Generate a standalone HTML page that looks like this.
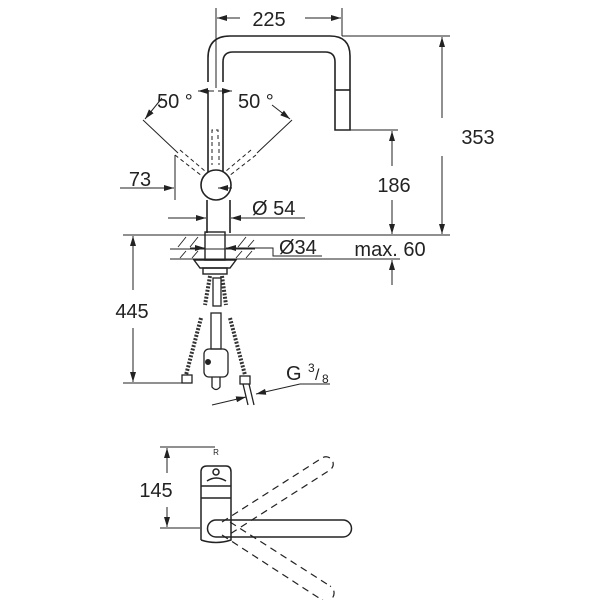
<!DOCTYPE html>
<html><head><meta charset="utf-8"><style>
html,body{margin:0;padding:0;background:#fff}
svg{display:block}
text{font-family:"Liberation Sans",sans-serif;fill:#222}
</style></head><body>
<svg width="600" height="600" viewBox="0 0 600 600" xmlns="http://www.w3.org/2000/svg">
<defs>
<marker id="a" viewBox="0 0 10 6" refX="10" refY="3" markerWidth="10" markerHeight="6" orient="auto-start-reverse" markerUnits="userSpaceOnUse"><path d="M0,0 L10,3 L0,6z" fill="#222"/></marker>
</defs>
<g stroke="#222" fill="none" stroke-width="1">
<line x1="216" y1="8" x2="216" y2="88"/>
<line x1="342" y1="8" x2="342" y2="36"/>
<line x1="217" y1="18" x2="240" y2="18" marker-start="url(#a)"/>
<line x1="305" y1="18" x2="341" y2="18" marker-end="url(#a)"/>
<line x1="342" y1="36" x2="450" y2="36"/>
<line x1="442" y1="37" x2="442" y2="118" marker-start="url(#a)"/>
<line x1="442" y1="156" x2="442" y2="234" marker-end="url(#a)"/>
<line x1="350" y1="130" x2="398" y2="130"/>
<line x1="392" y1="131" x2="392" y2="166" marker-start="url(#a)"/>
<line x1="392" y1="200" x2="392" y2="234" marker-end="url(#a)"/>
<line x1="123" y1="235" x2="450" y2="235"/>
<line x1="170" y1="249" x2="255" y2="249"/>
<line x1="170" y1="259" x2="400" y2="259"/>
<line x1="392" y1="285" x2="392" y2="260" marker-end="url(#a)"/>
<g stroke-width="0.9">
<path d="M178,247 l8,-10 M190,247 l8,-10 M238,247 l8,-10 M180,258 l6,-7 M192,258 l6,-7 M236,258 l6,-7 M246,258 l6,-7 M248,247 l6,-7"/>
</g>
<g stroke-width="1.6">
<path d="M208,82 L208,58 Q208,36 230,36 L330,36 Q350,36 350,56 L350,130 L335,130 L335,62 Q335,52 325,52 L233,52 Q223,52 223,62 L223,82"/>
<line x1="335" y1="90" x2="350" y2="90"/>
<line x1="208" y1="90" x2="208" y2="172"/>
<line x1="223" y1="90" x2="223" y2="172"/>
<circle cx="216" cy="185" r="15"/>
<path d="M207,200 L207,233 M230,200 L230,233"/>
</g>
<path d="M212,140 V130 H218 V140" stroke-dasharray="4,3"/>
<line x1="212" y1="142" x2="212" y2="165" stroke-dasharray="4,3"/>
<line x1="219" y1="142" x2="219" y2="165" stroke-dasharray="4,3"/>
<line x1="175" y1="155" x2="202" y2="176" stroke-dasharray="4,3"/>
<line x1="180" y1="150" x2="205" y2="171" stroke-dasharray="4,3"/>
<line x1="256" y1="155" x2="229" y2="176" stroke-dasharray="4,3"/>
<line x1="251" y1="150" x2="226" y2="171" stroke-dasharray="4,3"/>
<line x1="143" y1="120" x2="178" y2="153"/>
<line x1="292" y1="120" x2="257" y2="153"/>
<line x1="162" y1="98" x2="145" y2="119" marker-end="url(#a)"/>
<line x1="272" y1="105" x2="290" y2="119" marker-end="url(#a)"/>
<line x1="198" y1="91" x2="214" y2="91" marker-start="url(#a)"/>
<line x1="232" y1="91" x2="218" y2="91" marker-start="url(#a)"/>
<line x1="175" y1="155" x2="175" y2="200"/>
<line x1="120" y1="188" x2="174" y2="188" marker-end="url(#a)"/>
<line x1="232" y1="188" x2="218" y2="188" marker-end="url(#a)"/>
<line x1="168" y1="218" x2="206" y2="218" marker-end="url(#a)"/>
<line x1="305" y1="218" x2="231" y2="218" marker-end="url(#a)"/>
<line x1="190" y1="248" x2="205" y2="248" marker-end="url(#a)"/>
<line x1="240" y1="248" x2="226" y2="248" marker-end="url(#a)"/>
<path d="M240,248 L273,248 L273,256 L322,256"/>
<g stroke-width="1.4">
<rect x="205" y="232" width="20" height="28"/>
<path d="M194,260 L236,260 L230,268 L200,268 Z"/>
<rect x="203" y="268" width="24" height="6"/>
</g>
<g stroke-width="4" stroke="#333" stroke-dasharray="2,1.5">
<line x1="210" y1="276" x2="205" y2="305"/>
<line x1="222" y1="276" x2="226" y2="305"/>
<line x1="201" y1="318" x2="186" y2="375"/>
<line x1="230" y1="318" x2="245" y2="375"/>
</g>
<g stroke-width="1.3">
<rect x="182" y="375" width="10" height="8"/>
<rect x="240" y="376" width="10" height="8"/>
<rect x="213" y="278" width="8" height="28"/>
<rect x="211" y="313" width="10" height="36"/>
<rect x="204" y="349" width="24" height="28" rx="5"/>
<path d="M212,377 L212,387 Q216,392 220,387 L220,377"/>
<line x1="243" y1="384" x2="248" y2="405"/>
<line x1="249" y1="384" x2="254" y2="405"/>
</g>
<circle cx="208" cy="362" r="2.5" fill="#222"/>
<line x1="212" y1="405" x2="246" y2="397" marker-end="url(#a)"/>
<line x1="300" y1="384" x2="256" y2="394" marker-end="url(#a)"/>
<line x1="300" y1="384" x2="330" y2="384"/>
<line x1="123" y1="383" x2="185" y2="383"/>
<line x1="133" y1="236" x2="133" y2="290" marker-start="url(#a)"/>
<line x1="133" y1="328" x2="133" y2="382" marker-end="url(#a)"/>
<line x1="160" y1="447" x2="215" y2="447"/>
<line x1="160" y1="528" x2="200" y2="528"/>
<line x1="167" y1="448" x2="167" y2="473" marker-start="url(#a)"/>
<line x1="167" y1="507" x2="167" y2="527" marker-end="url(#a)"/>
<g stroke-width="1.5">
<path d="M201,540 L201,472 Q201,466 207,466 L226,466 Q231,466 231,472 L231,540 Q216,545 201,540"/>
<line x1="201" y1="486" x2="231" y2="486"/>
<line x1="201" y1="498" x2="231" y2="498"/>
<path d="M207,481 Q216,475 226,481"/>
<circle cx="216" cy="472" r="3"/>
<path d="M216,520 L343,520 A8.5,8.5 0 0 1 343,537 L216,537 A8.5,8.5 0 0 1 216,520 Z"/>
</g>
<g stroke-dasharray="7,5" stroke-width="1.2">
<path d="M222,522 L322,458 A7,7 0 0 1 330,470 L230,534"/>
<path d="M222,535 L322,600 M230,522 L330,586"/>
<path d="M322,600 A7,7 0 0 0 330,586"/>
</g>
</g>
<g font-size="20">
<text x="269" y="26" text-anchor="middle">225</text>
<text x="478" y="144" text-anchor="middle">353</text>
<text x="394" y="192" text-anchor="middle">186</text>
<text x="390" y="256" text-anchor="middle">max. 60</text>
<text x="157" y="108">50 °</text>
<text x="238" y="108">50 °</text>
<text x="140" y="186" text-anchor="middle">73</text>
<text x="252" y="215">Ø 54</text>
<text x="279" y="254">Ø34</text>
<text x="132" y="318" text-anchor="middle">445</text>
<text x="286" y="380">G</text>
<text x="308" y="372" font-size="12">3</text>
<text x="315" y="380" font-size="16">/</text>
<text x="322" y="383" font-size="12">8</text>
<text x="156" y="497" text-anchor="middle">145</text>
<text x="216" y="455" font-size="8" text-anchor="middle">R</text>
</g>
</svg>
</body></html>
